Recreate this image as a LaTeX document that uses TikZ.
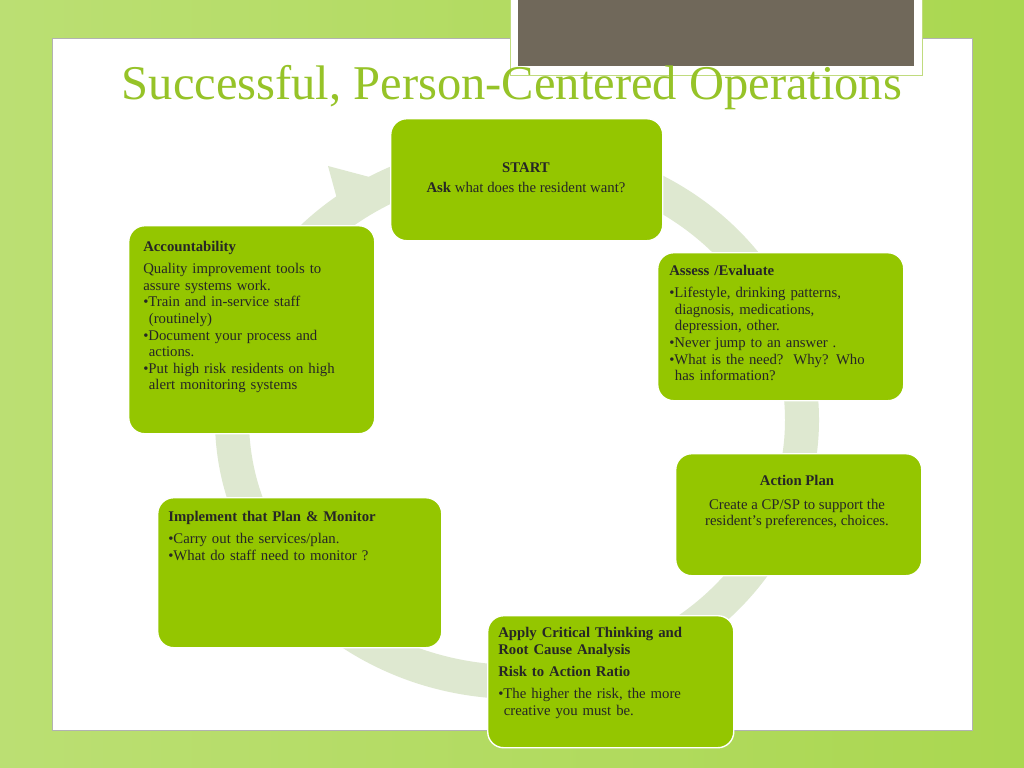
\documentclass[tikz,border=0pt]{standalone}
\usepackage{fontspec}
\setmainfont{Liberation Serif}
\usetikzlibrary{positioning}
\definecolor{leaf}{RGB}{148,198,0}
\definecolor{titlegreen}{RGB}{150,195,40}
\definecolor{ringgray}{RGB}{222,232,208}
\definecolor{bggreen}{RGB}{170,215,80}
\definecolor{slate}{RGB}{112,104,90}
\tikzset{
  stepbox/.style = { rectangle, rounded corners=4mm, fill=leaf, draw=white, line width=1pt, anchor=north west },
  steptext/.style = { anchor=north west, align=left, font=\fontsize{10.5}{11.8}\selectfont, inner sep=0pt, text=black!85 },
}
\begin{document}
\begin{tikzpicture}[x=0.025cm,y=-0.025cm]
  \useasboundingbox (0,0) rectangle (1024,768);
  \shade[left color=bggreen!80!white, right color=bggreen] (0,0) rectangle (1024,768);
  \fill[white] (52,38) rectangle (972,730);
  \draw[gray!60] (52,38) rectangle (972,730);
  % picture frame at the top
  \fill[white] (510,-2) rectangle (922,75);
  \draw[titlegreen!60] (510,-2) rectangle (922,75);
  \fill[slate] (518,-2) rectangle (914,66);
  \node (title) [text=titlegreen, font=\fontsize{34.5}{34}\selectfont] at (512,88) {Successful, Person-Centered Operations};
  % ring
  \draw[ringgray, line width=0.85cm] (517,420) ellipse [x radius=285, y radius=262];
  \fill[ringgray] (328,166) -- (392,183) -- (345,228) -- cycle;
  % steps
  \node (start) [stepbox, minimum width=6.8cm, minimum height=3.05cm] at (390,118) {};
  \node (starttxt) [align=center, font=\fontsize{10.5}{14}\selectfont, text=black!85] at (526,178) {\textbf{START}\\\textbf{Ask} what does the resident want?};
  \node (account) [stepbox, minimum width=6.15cm, minimum height=5.2cm] at (128,225) {};
  \node (accounttxt) [steptext, text width=5.6cm] at (143,241) {\textbf{Accountability}\\[4pt]
    Quality improvement tools to\\assure systems work.\\
    •Train and in-service staff\\\hspace*{4pt}(routinely)\\
    •Document your process and\\\hspace*{4pt}actions.\\
    •Put high risk residents on high\\\hspace*{4pt}alert monitoring systems};
  \node (assess) [stepbox, minimum width=6.15cm, minimum height=3.7cm] at (657,252) {};
  \node (assesstxt) [steptext, text width=5.6cm] at (669,265) {\textbf{Assess /Evaluate}\\[4pt]
    •Lifestyle, drinking patterns,\\\hspace*{4pt}diagnosis, medications,\\\hspace*{4pt}depression, other.\\
    •Never jump to an answer .\\
    •What is the need?\ \ Why? Who\\\hspace*{4pt}has information?};
  \node (action) [stepbox, minimum width=6.15cm, minimum height=3.05cm] at (675,453) {};
  \node (actiontxt) [align=center, font=\fontsize{10.5}{11.8}\selectfont, text=black!85] at (797,502) {\textbf{Action Plan}\\[5pt]Create a CP/SP to support the\\resident's preferences, choices.};
  \node (implement) [stepbox, minimum width=7.1cm, minimum height=3.75cm] at (157,497) {};
  \node (implementtxt) [steptext, text width=6.6cm] at (168,511) {\textbf{Implement that Plan \& Monitor}\\[4pt]
    •Carry out the services/plan.\\
    •What do staff need to monitor ?};
  \node (apply) [stepbox, minimum width=6.15cm, minimum height=3.3cm] at (487,615) {};
  \node (applytxt) [steptext, text width=5.6cm] at (498,627) {\textbf{Apply Critical Thinking and}\\\textbf{Root Cause Analysis}\\[4pt]
    \textbf{Risk to Action Ratio}\\[4pt]
    •The higher the risk, the more\\\hspace*{4pt}creative you must be.};
\end{tikzpicture}
\end{document}
